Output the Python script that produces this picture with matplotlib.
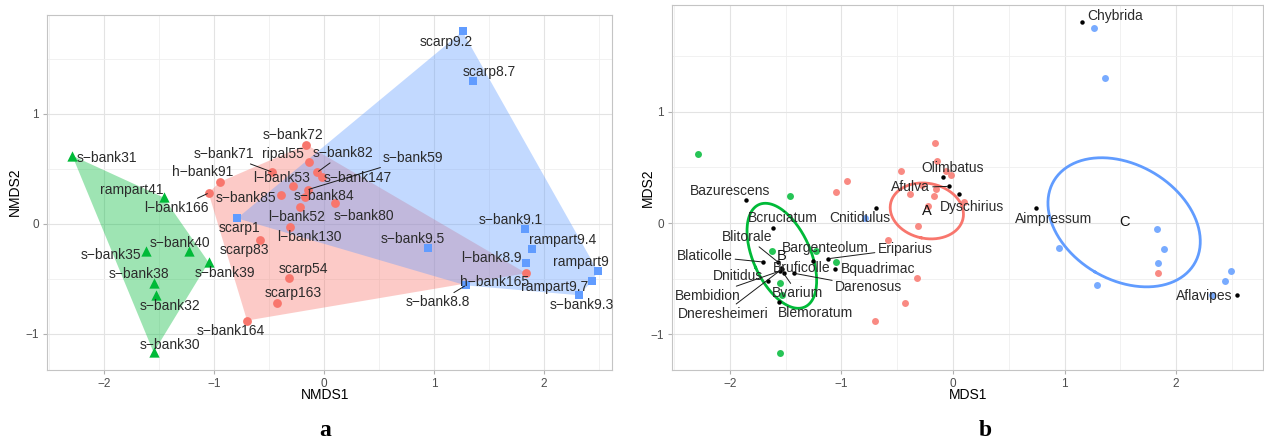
import numpy as np
import matplotlib
matplotlib.use('Agg')
import matplotlib.pyplot as plt
from matplotlib.ticker import MultipleLocator

plt.rcParams['font.family'] = ['Liberation Sans', 'DejaVu Sans']

# site scores (NMDS1, NMDS2) and group: 0 = red, 1 = green, 2 = blue
site_names = ['s-bank31', 'rampart41', 's-bank40', 's-bank35', 's-bank39', 's-bank38', 's-bank32', 's-bank30',
              's-bank72', 'ripal55', 's-bank71', 's-bank82', 's-bank147', 's-bank59', 'l-bank53', 's-bank84',
              's-bank85', 's-bank80', 'l-bank52', 'l-bank130', 'scarp83', 'scarp54', 'scarp163', 's-bank164',
              'h-bank91', 'l-bank166', 'h-bank165',
              'scarp1', 'scarp9.2', 'scarp8.7', 's-bank9.1', 'rampart9.4', 'l-bank8.9', 's-bank9.5', 's-bank8.8',
              'rampart9', 'rampart9.7', 's-bank9.3']
nmds1 = [-2.29, -1.46, -1.23, -1.62, -1.05, -1.55, -1.53, -1.55,
         -0.16, -0.14, -0.47, -0.06, -0.02, -0.15, -0.28, -0.17,
         -0.39, 0.10, -0.22, -0.31, -0.58, -0.32, -0.43, -0.70,
         -0.95, -1.05, 1.84,
         -0.79, 1.26, 1.36, 1.83, 1.89, 1.84, 0.95, 1.29,
         2.49, 2.44, 2.32]
nmds2 = [0.62, 0.24, -0.25, -0.25, -0.35, -0.54, -0.65, -1.17,
         0.72, 0.56, 0.47, 0.47, 0.43, 0.31, 0.34, 0.24,
         0.26, 0.19, 0.15, -0.03, -0.15, -0.49, -0.72, -0.88,
         0.38, 0.28, -0.45,
         0.05, 1.75, 1.30, -0.05, -0.23, -0.36, -0.22, -0.56,
         -0.43, -0.52, -0.65]
site_group = [1] * 8 + [0] * 19 + [2] * 11
group_names = ['A', 'B', 'C']

# species scores for panel b
species_names = ['Chybrida', 'Aimpressum', 'Aflavipes', 'Olimbatus', 'Afulva', 'Dyschirius', 'Cnitidulus',
                 'Bazurescens', 'Bcruciatum', 'Blitorale', 'Blaticolle', 'Bargenteolum', 'Eriparius',
                 'Bruficolle', 'Bvarium', 'Darenosus', 'Dnitidus', 'Bembidion', 'Dneresheimeri',
                 'Blemoratum', 'Bquadrimac']
species_x = [1.16, 0.74, 2.55, -0.09, -0.04, 0.05, -0.69,
             -1.86, -1.61, -1.57, -1.70, -1.26, -1.12,
             -1.54, -1.52, -1.43, -1.66, -1.55, -1.53,
             -1.56, -1.06]
species_y = [1.81, 0.14, -0.65, 0.41, 0.33, 0.26, 0.14,
             0.21, -0.04, -0.35, -0.35, -0.34, -0.32,
             -0.40, -0.45, -0.45, -0.52, -0.43, -0.41,
             -0.71, -0.41]

colors = ['#F8766D', '#00BA38', '#619CFF']
markers = ['o', '^', 's']

# label offsets in pixels (right, up)
off_a = {'s-bank31': (35, -2), 'rampart41': (-32, 7), 'l-bank166': (-32, -15), 's-bank40': (-9, 8),
         's-bank35': (-35, -4), 's-bank39': (16, -11), 's-bank38': (-15, 9), 's-bank32': (14, -11),
         's-bank30': (16, 7), 'h-bank91': (-17, 10), 's-bank71': (-48, 18), 'ripal55': (-26, 8),
         's-bank72': (-13, 10), 's-bank82': (26, 19), 's-bank59': (105, 32), 's-bank147': (36, -1),
         's-bank84': (19, 1), 'l-bank53': (-12, 8), 's-bank85': (-35, -3), 'l-bank52': (-3, -10),
         's-bank80': (29, -13), 'l-bank130': (19, -10), 'scarp1': (2, -10), 'scarp83': (-16, -10),
         'scarp54': (15, 9), 'scarp163': (16, 10), 's-bank164': (-16, -10), 'h-bank165': (-32, -9),
         'scarp9.2': (-16, -11), 'scarp8.7': (16, 9), 's-bank9.1': (-14, 9), 'rampart9.4': (31, 9),
         's-bank9.5': (-16, 9), 'l-bank8.9': (-35, 5), 'rampart9': (-17, 9), 'rampart9.7': (-38, -6),
         's-bank9.3': (3, -10), 's-bank8.8': (-28, -17)}
lead_a = ['l-bank166', 's-bank71', 's-bank82', 's-bank59', 's-bank8.8']

off_b = {'Chybrida': (33, 6), 'Aimpressum': (18, -11), 'Aflavipes': (-33, -1), 'Olimbatus': (10, 9),
         'Afulva': (-38, -1), 'Dyschirius': (13, -13), 'Cnitidulus': (-16, -10), 'Bazurescens': (-16, 9),
         'Bcruciatum': (9, 10), 'Blitorale': (-31, 25), 'Blaticolle': (-59, 6), 'Bargenteolum': (13, 13),
         'Eriparius': (77, 10), 'Bruficolle': (20, 0), 'Bvarium': (14, -20), 'Darenosus': (75, -14),
         'Dnitidus': (-30, 5), 'Bembidion': (-72, -25), 'Dneresheimeri': (-59, -45),
         'Blemoratum': (36, -11), 'Bquadrimac': (43, 0)}
lead_b = ['Afulva', 'Blitorale', 'Blaticolle', 'Eriparius', 'Bvarium', 'Darenosus', 'Bembidion',
          'Dneresheimeri']

x = np.array(nmds1)
y = np.array(nmds2)
g = np.array(site_group)


def convex_hull(px, py):
    pts = sorted(set(zip(px, py)))

    def cross(o, a, b):
        return (a[0] - o[0]) * (b[1] - o[1]) - (a[1] - o[1]) * (b[0] - o[0])

    lower, upper = [], []
    for p in pts:
        while len(lower) >= 2 and cross(lower[-2], lower[-1], p) <= 0:
            lower.pop()
        lower.append(p)
    for p in reversed(pts):
        while len(upper) >= 2 and cross(upper[-2], upper[-1], p) <= 0:
            upper.pop()
        upper.append(p)
    return np.array(lower[:-1] + upper[:-1])


def se_ellipse(px, py, chi2=5.991):
    c = np.array([px.mean(), py.mean()])
    cov = np.cov(px, py) / len(px)
    vals, vecs = np.linalg.eigh(cov * chi2)
    t = np.linspace(0, 2 * np.pi, 200)
    circ = np.vstack([np.cos(t), np.sin(t)])
    e = vecs @ (np.sqrt(vals)[:, None] * circ)
    return c, e[0] + c[0], e[1] + c[1]


def style(ax, xlim, ylim):
    ax.set_xlim(*xlim)
    ax.set_ylim(*ylim)
    ax.xaxis.set_major_locator(MultipleLocator(1))
    ax.yaxis.set_major_locator(MultipleLocator(1))
    ax.xaxis.set_minor_locator(MultipleLocator(0.5))
    ax.yaxis.set_minor_locator(MultipleLocator(0.5))
    ax.grid(True, which='major', color='#E3E3E3', lw=0.8)
    ax.grid(True, which='minor', color='#EFEFEF', lw=0.6)
    ax.set_axisbelow(True)
    ax.tick_params(which='major', length=3, color='#B0B0B0', labelsize=8.5, labelcolor='#4D4D4D', pad=3)
    ax.tick_params(which='minor', length=0)
    for s in ax.spines.values():
        s.set_color('#C4C4C4')
        s.set_linewidth(0.8)
    ax.xaxis.set_major_formatter(plt.FuncFormatter(lambda v, p: f'{v:.0f}'.replace('-', '\u2212')))
    ax.yaxis.set_major_formatter(plt.FuncFormatter(lambda v, p: f'{v:.0f}'.replace('-', '\u2212')))


def label(ax, text, px, py, off, lead):
    kw = dict(textcoords='offset pixels', ha='center', va='center', fontsize=10, color='#2B2B2B', zorder=6)
    if lead:
        kw['arrowprops'] = dict(arrowstyle='-', color='#1A1A1A', lw=0.7, shrinkA=0, shrinkB=1)
    ax.annotate(text, (px, py), xytext=off, **kw)


fig = plt.figure(figsize=(12.64, 4.45), dpi=100)
ax1 = fig.add_axes([47 / 1264, 75 / 445, 565 / 1264, 355 / 445])
ax2 = fig.add_axes([672 / 1264, 75 / 445, 591 / 1264, 365 / 445])

# panel a: hulls and site points
for k in [1, 0, 2]:
    h = convex_hull(x[g == k], y[g == k])
    ax1.fill(h[:, 0], h[:, 1], color=colors[k], alpha=0.38, lw=0, zorder=2)
for k in range(3):
    ax1.scatter(x[g == k], y[g == k], marker=markers[k], s=40 if k != 1 else 55, color=colors[k],
                lw=0, zorder=4)
for i, name in enumerate(site_names):
    label(ax1, name.replace('-', '\u2212'), x[i], y[i], off_a[name], name in lead_a)
style(ax1, (-2.52, 2.62), (-1.33, 1.90))

# panel b: sites, group ellipses, species
for k in range(3):
    ax2.plot(x[g == k], y[g == k], 'o', ms=5, color=colors[k], alpha=0.85, mec='none', zorder=3)
    c, ex, ey = se_ellipse(x[g == k], y[g == k])
    ax2.plot(ex, ey, color=colors[k], lw=2, zorder=4)
    ax2.text(c[0], c[1], group_names[k], ha='center', va='center', fontsize=10.5, color='#111111', zorder=6)
ax2.plot(species_x, species_y, 'o', ms=3.2, color='black', mec='none', zorder=5)
for i, name in enumerate(species_names):
    label(ax2, name, species_x[i], species_y[i], off_b[name], name in lead_b)
style(ax2, (-2.52, 2.78), (-1.32, 1.96))

fig.text(325 / 1264, 1 - 395 / 445, 'NMDS1', ha='center', va='center', fontsize=10)
fig.text(15 / 1264, 1 - 192 / 445, 'NMDS2', ha='center', va='center', fontsize=10, rotation=90)
fig.text(968 / 1264, 1 - 395 / 445, 'MDS1', ha='center', va='center', fontsize=10)
fig.text(648 / 1264, 1 - 188 / 445, 'MDS2', ha='center', va='center', fontsize=10, rotation=90)
fig.text(325 / 1264, 1 - 430 / 445, 'a', ha='center', va='center', fontsize=17, fontweight='bold',
         family='Liberation Serif')
fig.text(985 / 1264, 1 - 430 / 445, 'b', ha='center', va='center', fontsize=17, fontweight='bold',
         family='Liberation Serif')

fig.savefig('out.png', dpi=100)
